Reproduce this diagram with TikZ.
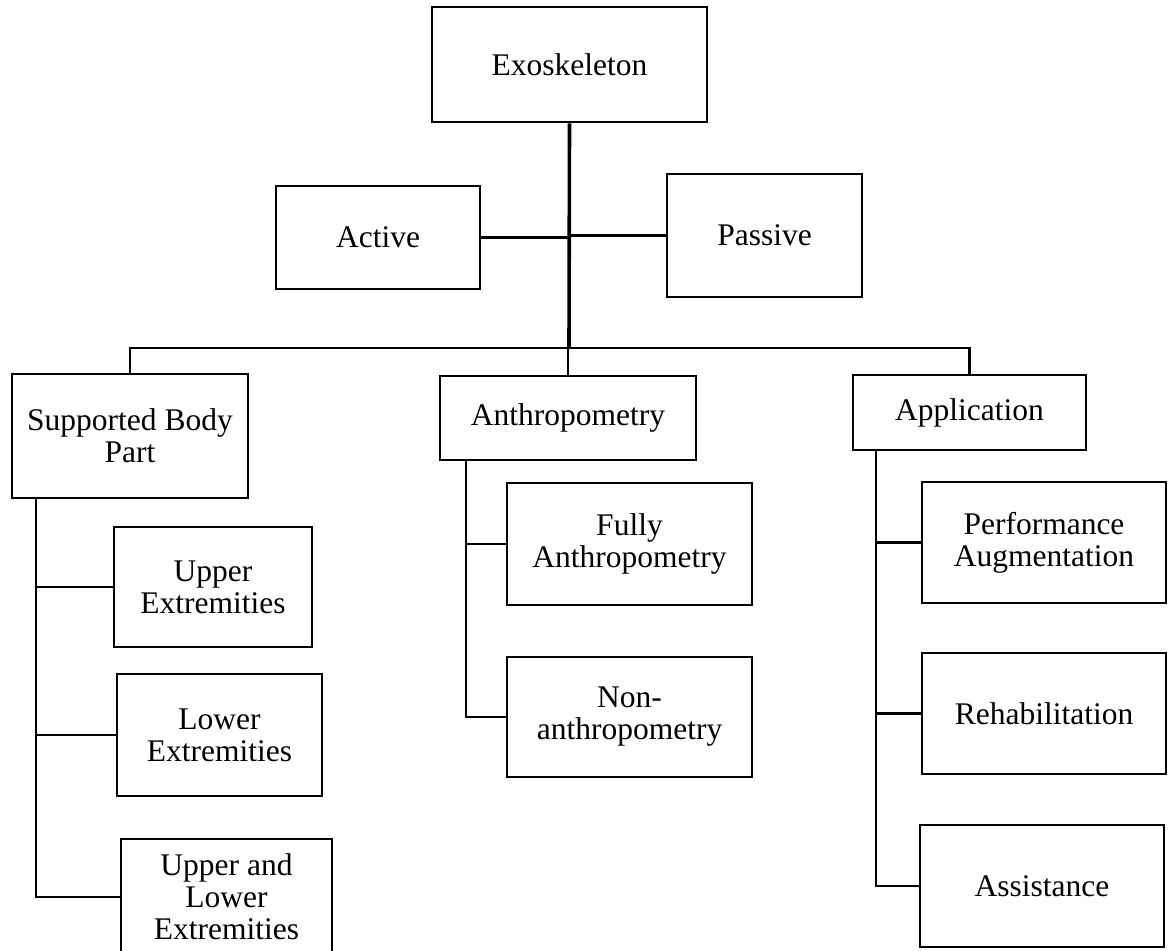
\documentclass[tikz,border=0pt]{standalone}
\usepackage{fontspec}
\setmainfont{Liberation Serif}
\begin{document}
\begin{tikzpicture}[x=1pt,y=-1pt,
  box/.style={draw=black,line width=2.5pt,align=center,inner sep=0pt,
    font=\fontsize{31.5}{32}\selectfont},
  conn/.style={line width=2.4pt},
  trunk/.style={line width=3.6pt}]
\clip (0,0) rectangle (1168,951);
\useasboundingbox (0,0) rectangle (1168,951);
% top level
\node[box,minimum width=275pt,minimum height=115pt] (exo) at (569.5,64.5) {Exoskeleton};
\node[box,minimum width=204pt,minimum height=103pt] (active) at (378,237.5) {Active};
\node[box,minimum width=195pt,minimum height=123pt] (passive) at (764.5,235.5) {Passive};
% second level
\node[box,minimum width=236pt,minimum height=124pt] (sbp) at (130,436) {Supported Body\\Part};
\node[box,minimum width=256pt,minimum height=84pt] (anth) at (568,418) {Anthropometry};
\node[box,minimum width=233pt,minimum height=75pt] (app) at (969.5,412.5) {Application};
% supported body part children
\node[box,minimum width=198pt,minimum height=120pt] (ue) at (213,587) {Upper\\Extremities};
\node[box,minimum width=205pt,minimum height=122pt] (le) at (219.5,735) {Lower\\Extremities};
\node[box,minimum width=211pt,minimum height=116pt] (ule) at (226.5,897) {Upper and\\Lower\\Extremities};
% anthropometry children
\node[box,minimum width=245pt,minimum height=122pt] (fa) at (629.5,544) {Fully\\Anthropometry};
\node[box,minimum width=245pt,minimum height=120pt] (na) at (629.5,717) {Non-\\anthropometry};
% application children
\node[box,minimum width=244pt,minimum height=121pt] (pa) at (1044,542.5) {Performance\\Augmentation};
\node[box,minimum width=244pt,minimum height=121pt] (reh) at (1044,713.5) {Rehabilitation};
\node[box,minimum width=244pt,minimum height=122pt] (ass) at (1042,886) {Assistance};
% connectors
\coordinate (bus) at (569,348);
\draw[trunk] (exo.south) -- (bus);
\draw[conn] (active.east) -- (active.east -| bus);
\draw[conn] (passive.west) -- (passive.west -| bus);
\draw[conn] (sbp.north) |- (bus) -| (app.north);
\draw[conn] (anth.north) -- (anth.north |- bus);
% left branch
\coordinate (sl) at (36,498);
\draw[conn] (sl) |- (ule.west);
\draw[conn] (ue.west) -- (ue.west -| sl);
\draw[conn] (le.west) -- (le.west -| sl);
% middle branch
\coordinate (ml) at (466,460);
\draw[conn] (ml) |- (na.west);
\draw[conn] (fa.west) -- (fa.west -| ml);
% right branch
\coordinate (rl) at (876,450);
\draw[conn] (rl) |- (ass.west);
\draw[conn] (pa.west) -- (pa.west -| rl);
\draw[conn] (reh.west) -- (reh.west -| rl);
\end{tikzpicture}
\end{document}
